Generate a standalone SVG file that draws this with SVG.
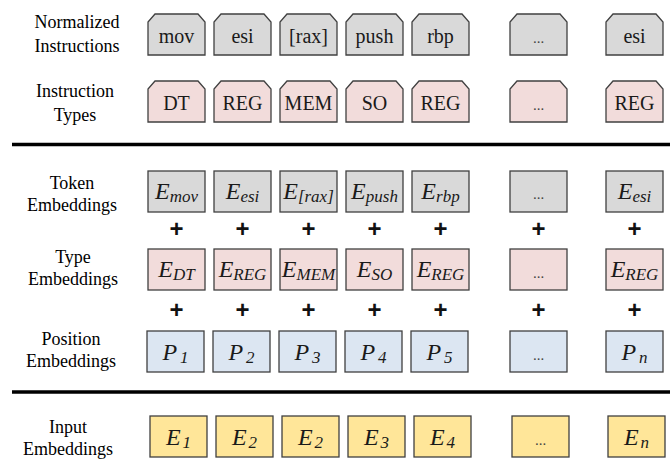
<svg xmlns="http://www.w3.org/2000/svg" width="670" height="459" viewBox="0 0 670 459">
  <rect width="670" height="459" fill="#fff"/>
  <!-- row labels -->
  <text x="77" y="28" font-size="18" font-family="Liberation Serif" text-anchor="middle">Normalized</text>
  <text x="77" y="52" font-size="18" font-family="Liberation Serif" text-anchor="middle">Instructions</text>
  <text x="75" y="97" font-size="18" font-family="Liberation Serif" text-anchor="middle">Instruction</text>
  <text x="75" y="121" font-size="18" font-family="Liberation Serif" text-anchor="middle">Types</text>
  <text x="72" y="189" font-size="18" font-family="Liberation Serif" text-anchor="middle">Token</text>
  <text x="72" y="211" font-size="18" font-family="Liberation Serif" text-anchor="middle">Embeddings</text>
  <text x="73" y="263" font-size="18" font-family="Liberation Serif" text-anchor="middle">Type</text>
  <text x="73" y="285" font-size="18" font-family="Liberation Serif" text-anchor="middle">Embeddings</text>
  <text x="71" y="345" font-size="18" font-family="Liberation Serif" text-anchor="middle">Position</text>
  <text x="71" y="367" font-size="18" font-family="Liberation Serif" text-anchor="middle">Embeddings</text>
  <text x="68" y="433" font-size="18" font-family="Liberation Serif" text-anchor="middle">Input</text>
  <text x="68" y="455" font-size="18" font-family="Liberation Serif" text-anchor="middle">Embeddings</text>

  <!-- section dividers -->
  <g id="dividers" stroke="#000" stroke-width="3.5">
    <line x1="12" y1="144.5" x2="670" y2="144.5"/>
    <line x1="12" y1="392" x2="670" y2="392"/>
  </g>

  <!-- normalized instruction tokens (tabs with clipped top corners) -->
  <g id="norm" fill="#d9d9d9" stroke="#404040" stroke-width="1.3">
    <g id="norm-1"><path d="M155,14 H198 L205,22 V55 H148 V22 Z"/><text font-family="Liberation Serif" font-size="20" fill="#1a1a1a" stroke="none" text-anchor="middle" x="176.5" y="43">mov</text></g>
    <g id="norm-2"><path d="M221,14 H264 L271,22 V55 H214 V22 Z"/><text font-family="Liberation Serif" font-size="20" fill="#1a1a1a" stroke="none" text-anchor="middle" x="242.5" y="43">esi</text></g>
    <g id="norm-3"><path d="M287,14 H330 L337,22 V55 H280 V22 Z"/><text font-family="Liberation Serif" font-size="20" fill="#1a1a1a" stroke="none" text-anchor="middle" x="308.5" y="43">[rax]</text></g>
    <g id="norm-4"><path d="M353,14 H396 L403,22 V55 H346 V22 Z"/><text font-family="Liberation Serif" font-size="20" fill="#1a1a1a" stroke="none" text-anchor="middle" x="374.5" y="43">push</text></g>
    <g id="norm-5"><path d="M419,14 H462 L469,22 V55 H412 V22 Z"/><text font-family="Liberation Serif" font-size="20" fill="#1a1a1a" stroke="none" text-anchor="middle" x="440.5" y="43">rbp</text></g>
    <g id="norm-6"><path d="M517,14 H560 L567,22 V55 H510 V22 Z"/><text font-family="Liberation Serif" font-size="15" fill="#444" stroke="none" text-anchor="middle" x="538.5" y="43">...</text></g>
    <g id="norm-n"><path d="M613,14 H656 L663,22 V55 H606 V22 Z"/><text font-family="Liberation Serif" font-size="20" fill="#1a1a1a" stroke="none" text-anchor="middle" x="634.5" y="43">esi</text></g>
  </g>

  <!-- instruction types -->
  <g id="itype" fill="#f2dcdb" stroke="#404040" stroke-width="1.3">
    <g id="itype-1"><path d="M155,81 H198 L205,89 V122 H148 V89 Z"/><text font-family="Liberation Serif" font-size="20" fill="#1a1a1a" stroke="none" text-anchor="middle" x="176.5" y="110">DT</text></g>
    <g id="itype-2"><path d="M221,81 H264 L271,89 V122 H214 V89 Z"/><text font-family="Liberation Serif" font-size="20" fill="#1a1a1a" stroke="none" text-anchor="middle" x="242.5" y="110">REG</text></g>
    <g id="itype-3"><path d="M287,81 H330 L337,89 V122 H280 V89 Z"/><text font-family="Liberation Serif" font-size="20" fill="#1a1a1a" stroke="none" text-anchor="middle" x="308.5" y="110">MEM</text></g>
    <g id="itype-4"><path d="M353,81 H396 L403,89 V122 H346 V89 Z"/><text font-family="Liberation Serif" font-size="20" fill="#1a1a1a" stroke="none" text-anchor="middle" x="374.5" y="110">SO</text></g>
    <g id="itype-5"><path d="M419,81 H462 L469,89 V122 H412 V89 Z"/><text font-family="Liberation Serif" font-size="20" fill="#1a1a1a" stroke="none" text-anchor="middle" x="440.5" y="110">REG</text></g>
    <g id="itype-6"><path d="M517,81 H560 L567,89 V122 H510 V89 Z"/><text font-family="Liberation Serif" font-size="15" fill="#444" stroke="none" text-anchor="middle" x="538.5" y="110">...</text></g>
    <g id="itype-n"><path d="M613,81 H656 L663,89 V122 H606 V89 Z"/><text font-family="Liberation Serif" font-size="20" fill="#1a1a1a" stroke="none" text-anchor="middle" x="634.5" y="110">REG</text></g>
  </g>

  <!-- token embeddings -->
  <g id="tokemb" fill="#d9d9d9" stroke="#404040" stroke-width="1.3">
    <g id="tokemb-1"><rect x="148" y="171" width="57" height="41"/><text font-family="Liberation Serif" font-size="24" font-style="italic" fill="#1a1a1a" stroke="none" text-anchor="middle" x="176.5" y="199">E<tspan font-size="17" dy="3">mov</tspan></text></g>
    <g id="tokemb-2"><rect x="214" y="171" width="57" height="41"/><text font-family="Liberation Serif" font-size="24" font-style="italic" fill="#1a1a1a" stroke="none" text-anchor="middle" x="242.5" y="199">E<tspan font-size="17" dy="3">esi</tspan></text></g>
    <g id="tokemb-3"><rect x="280" y="171" width="57" height="41"/><text font-family="Liberation Serif" font-size="24" font-style="italic" fill="#1a1a1a" stroke="none" text-anchor="middle" x="308.5" y="199">E<tspan font-size="17" dy="3">[rax]</tspan></text></g>
    <g id="tokemb-4"><rect x="346" y="171" width="57" height="41"/><text font-family="Liberation Serif" font-size="24" font-style="italic" fill="#1a1a1a" stroke="none" text-anchor="middle" x="374.5" y="199">E<tspan font-size="17" dy="3">push</tspan></text></g>
    <g id="tokemb-5"><rect x="412" y="171" width="57" height="41"/><text font-family="Liberation Serif" font-size="24" font-style="italic" fill="#1a1a1a" stroke="none" text-anchor="middle" x="440.5" y="199">E<tspan font-size="17" dy="3">rbp</tspan></text></g>
    <g id="tokemb-6"><rect x="510" y="171" width="57" height="41"/><text font-family="Liberation Serif" font-size="15" fill="#444" stroke="none" text-anchor="middle" x="538.5" y="199">...</text></g>
    <g id="tokemb-n"><rect x="606" y="171" width="57" height="41"/><text font-family="Liberation Serif" font-size="24" font-style="italic" fill="#1a1a1a" stroke="none" text-anchor="middle" x="634.5" y="199">E<tspan font-size="17" dy="3">esi</tspan></text></g>
  </g>

  <!-- type embeddings -->
  <g id="typemb" fill="#f2dcdb" stroke="#404040" stroke-width="1.3">
    <g id="typemb-1"><rect x="148" y="249" width="57" height="41"/><text font-family="Liberation Serif" font-size="24" font-style="italic" fill="#1a1a1a" stroke="none" text-anchor="middle" x="176.5" y="277">E<tspan font-size="17" dy="3">DT</tspan></text></g>
    <g id="typemb-2"><rect x="214" y="249" width="57" height="41"/><text font-family="Liberation Serif" font-size="24" font-style="italic" fill="#1a1a1a" stroke="none" text-anchor="middle" x="242.5" y="277">E<tspan font-size="17" dy="3">REG</tspan></text></g>
    <g id="typemb-3"><rect x="280" y="249" width="57" height="41"/><text font-family="Liberation Serif" font-size="24" font-style="italic" fill="#1a1a1a" stroke="none" text-anchor="middle" x="308.5" y="277">E<tspan font-size="17" dy="3">MEM</tspan></text></g>
    <g id="typemb-4"><rect x="346" y="249" width="57" height="41"/><text font-family="Liberation Serif" font-size="24" font-style="italic" fill="#1a1a1a" stroke="none" text-anchor="middle" x="374.5" y="277">E<tspan font-size="17" dy="3">SO</tspan></text></g>
    <g id="typemb-5"><rect x="412" y="249" width="57" height="41"/><text font-family="Liberation Serif" font-size="24" font-style="italic" fill="#1a1a1a" stroke="none" text-anchor="middle" x="440.5" y="277">E<tspan font-size="17" dy="3">REG</tspan></text></g>
    <g id="typemb-6"><rect x="510" y="249" width="57" height="41"/><text font-family="Liberation Serif" font-size="15" fill="#444" stroke="none" text-anchor="middle" x="538.5" y="278">...</text></g>
    <g id="typemb-n"><rect x="606" y="249" width="57" height="41"/><text font-family="Liberation Serif" font-size="24" font-style="italic" fill="#1a1a1a" stroke="none" text-anchor="middle" x="634.5" y="277">E<tspan font-size="17" dy="3">REG</tspan></text></g>
  </g>

  <!-- position embeddings -->
  <g id="posemb" fill="#dce6f2" stroke="#404040" stroke-width="1.3">
    <g id="posemb-1"><rect x="147" y="331" width="57" height="41"/><text font-family="Liberation Serif" font-size="24" font-style="italic" fill="#1a1a1a" stroke="none" text-anchor="middle" x="175.5" y="360">P<tspan font-size="17" dx="3" dy="3">1</tspan></text></g>
    <g id="posemb-2"><rect x="213" y="331" width="57" height="41"/><text font-family="Liberation Serif" font-size="24" font-style="italic" fill="#1a1a1a" stroke="none" text-anchor="middle" x="241.5" y="360">P<tspan font-size="17" dx="3" dy="3">2</tspan></text></g>
    <g id="posemb-3"><rect x="279" y="331" width="57" height="41"/><text font-family="Liberation Serif" font-size="24" font-style="italic" fill="#1a1a1a" stroke="none" text-anchor="middle" x="307.5" y="360">P<tspan font-size="17" dx="3" dy="3">3</tspan></text></g>
    <g id="posemb-4"><rect x="345" y="331" width="57" height="41"/><text font-family="Liberation Serif" font-size="24" font-style="italic" fill="#1a1a1a" stroke="none" text-anchor="middle" x="373.5" y="360">P<tspan font-size="17" dx="3" dy="3">4</tspan></text></g>
    <g id="posemb-5"><rect x="411" y="331" width="57" height="41"/><text font-family="Liberation Serif" font-size="24" font-style="italic" fill="#1a1a1a" stroke="none" text-anchor="middle" x="439.5" y="360">P<tspan font-size="17" dx="3" dy="3">5</tspan></text></g>
    <g id="posemb-6"><rect x="510" y="331" width="57" height="41"/><text font-family="Liberation Serif" font-size="15" fill="#444" stroke="none" text-anchor="middle" x="538.5" y="360">...</text></g>
    <g id="posemb-n"><rect x="606" y="331" width="57" height="41"/><text font-family="Liberation Serif" font-size="24" font-style="italic" fill="#1a1a1a" stroke="none" text-anchor="middle" x="634.5" y="360">P<tspan font-size="17" dx="3" dy="3">n</tspan></text></g>
  </g>

  <!-- input embeddings -->
  <g id="inpemb" fill="#ffe699" stroke="#404040" stroke-width="1.3">
    <g id="inpemb-1"><rect x="150" y="416" width="57" height="41"/><text font-family="Liberation Serif" font-size="24" font-style="italic" fill="#1a1a1a" stroke="none" text-anchor="middle" x="178.5" y="445">E<tspan font-size="17" dx="2" dy="3">1</tspan></text></g>
    <g id="inpemb-2"><rect x="216" y="416" width="57" height="41"/><text font-family="Liberation Serif" font-size="24" font-style="italic" fill="#1a1a1a" stroke="none" text-anchor="middle" x="244.5" y="445">E<tspan font-size="17" dx="2" dy="3">2</tspan></text></g>
    <g id="inpemb-3"><rect x="282" y="416" width="57" height="41"/><text font-family="Liberation Serif" font-size="24" font-style="italic" fill="#1a1a1a" stroke="none" text-anchor="middle" x="310.5" y="445">E<tspan font-size="17" dx="2" dy="3">2</tspan></text></g>
    <g id="inpemb-4"><rect x="348" y="416" width="57" height="41"/><text font-family="Liberation Serif" font-size="24" font-style="italic" fill="#1a1a1a" stroke="none" text-anchor="middle" x="376.5" y="445">E<tspan font-size="17" dx="2" dy="3">3</tspan></text></g>
    <g id="inpemb-5"><rect x="414" y="416" width="57" height="41"/><text font-family="Liberation Serif" font-size="24" font-style="italic" fill="#1a1a1a" stroke="none" text-anchor="middle" x="442.5" y="445">E<tspan font-size="17" dx="2" dy="3">4</tspan></text></g>
    <g id="inpemb-6"><rect x="512" y="416" width="57" height="41"/><text font-family="Liberation Serif" font-size="15" fill="#444" stroke="none" text-anchor="middle" x="540.5" y="445">...</text></g>
    <g id="inpemb-n"><rect x="608" y="416" width="57" height="41"/><text font-family="Liberation Serif" font-size="24" font-style="italic" fill="#1a1a1a" stroke="none" text-anchor="middle" x="636.5" y="445">E<tspan font-size="17" dx="2" dy="3">n</tspan></text></g>
  </g>

  <!-- summation operators between embedding rows -->
  <g id="operators" font-size="24" font-weight="bold" fill="#111" text-anchor="middle">
    <text font-family="Liberation Sans" x="176.5" y="237">+</text>
    <text font-family="Liberation Sans" x="242.5" y="237">+</text>
    <text font-family="Liberation Sans" x="308.5" y="237">+</text>
    <text font-family="Liberation Sans" x="374.5" y="237">+</text>
    <text font-family="Liberation Sans" x="440.5" y="237">+</text>
    <text font-family="Liberation Sans" x="538.5" y="237">+</text>
    <text font-family="Liberation Sans" x="634.5" y="237">+</text>
    <text font-family="Liberation Sans" x="176.5" y="318">+</text>
    <text font-family="Liberation Sans" x="242.5" y="318">+</text>
    <text font-family="Liberation Sans" x="308.5" y="318">+</text>
    <text font-family="Liberation Sans" x="374.5" y="318">+</text>
    <text font-family="Liberation Sans" x="440.5" y="318">+</text>
    <text font-family="Liberation Sans" x="538.5" y="318">+</text>
    <text font-family="Liberation Sans" x="634.5" y="318">+</text>
  </g>
</svg>
